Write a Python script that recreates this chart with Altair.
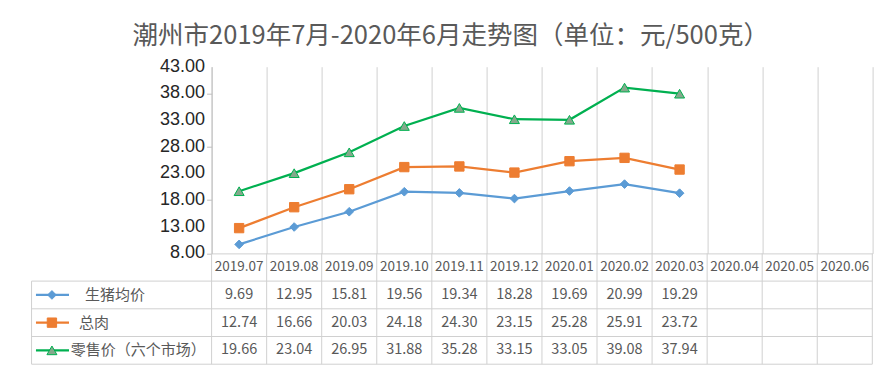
import altair as alt
import pandas as pd

months = ["2019.07", "2019.08", "2019.09", "2019.10", "2019.11", "2019.12",
          "2020.01", "2020.02", "2020.03", "2020.04", "2020.05", "2020.06"]
series_names = ["生猪均价", "总肉", "零售价（六个市场）"]
pig = [9.69, 12.95, 15.81, 19.56, 19.34, 18.28, 19.69, 20.99, 19.29]
meat = [12.74, 16.66, 20.03, 24.18, 24.30, 23.15, 25.28, 25.91, 23.72]
retail = [19.66, 23.04, 26.95, 31.88, 35.28, 33.15, 33.05, 39.08, 37.94]
y_ticks = [8, 13, 18, 23, 28, 33, 38, 43]

# ---- layout (pixels) ----
W, H = 660.7, 186.7
ROW = 27.7
PAD_L, PAD_T = 203.6, 58.7
PAD_R = 894 - 16 - PAD_L - W
PAD_B = 377 - 16 - PAD_T - H
FONT = "Noto Sans CJK SC"
GRID = "#d0d0d0"
TXT = "#595959"
n = len(months)
UNIT = W / n

line_colors = ["#5b9bd5", "#ed7d31", "#00b050"]
fill_colors = ["#5b9bd5", "#ed7d31", "#84a98c"]
shapes = ["diamond", "square", "triangle-up"]
sizes = [75, 100, 95]
label_dx = {"生猪均价": -2.30, "总肉": -2.41, "零售价（六个市场）": -2.56}

values = [pig, meat, retail]
rows = []
for s, vals in zip(series_names, values):
    for i, v in enumerate(vals):
        rows.append({"series": s, "month": months[i], "pos": i + 0.5, "value": v,
                     "row": series_names.index(s) + 1.5, "label": f"{v:.2f}"})
df = pd.DataFrame(rows)

xs = alt.Scale(domain=[0, n], nice=False, zero=False)
col_s = alt.Scale(domain=series_names, range=line_colors)
fill_s = alt.Scale(domain=series_names, range=fill_colors)
shape_s = alt.Scale(domain=series_names, range=shapes)
size_s = alt.Scale(domain=series_names, range=sizes)
ty = alt.Scale(domain=[0, 4], range=[H, H + 4 * ROW], nice=False, zero=False)
ly = alt.Scale(domain=[8, 43], nice=False, zero=False)

base = alt.Chart(df)

lines = base.mark_line(strokeWidth=2.25).encode(
    x=alt.X("pos:Q", scale=xs,
            axis=alt.Axis(values=list(range(n + 1)), grid=True, gridColor=GRID,
                          labels=False, ticks=False, domainColor=GRID, title=None)),
    y=alt.Y("value:Q", scale=ly,
            axis=alt.Axis(values=y_ticks, grid=False, title=None, labels=False,
                          domainColor="#bfbfbf", tickColor="#bfbfbf", tickSize=5)),
    color=alt.Color("series:N", scale=col_s, legend=None),
    detail="series:N",
)
points = base.mark_point(filled=True, opacity=1, strokeWidth=1).encode(
    x=alt.X("pos:Q", scale=xs),
    y=alt.Y("value:Q", scale=ly),
    fill=alt.Fill("series:N", scale=fill_s, legend=None),
    stroke=alt.Stroke("series:N", scale=col_s, legend=None),
    shape=alt.Shape("series:N", scale=shape_s, legend=None),
    size=alt.Size("series:N", scale=size_s, legend=None),
)
ytl = pd.DataFrame({"v": y_ticks, "xl": [-6.5 / UNIT] * len(y_ticks),
                    "t": [f"{v:.2f}" for v in y_ticks]})
ylabels = alt.Chart(ytl).mark_text(font="Liberation Sans", fontSize=18, color="#262626",
                                   align="right", baseline="middle").encode(
    x=alt.X("xl:Q", scale=xs), y=alt.Y("v:Q", scale=ly), text="t:N")
plot = alt.layer(lines, points, ylabels)

# ---- table ----
LEFT = -3.27
vrules = pd.DataFrame({"x": list(range(n + 1)), "y": [0] * (n + 1), "y2": [4] * (n + 1)})
vrules = pd.concat([vrules, pd.DataFrame({"x": [LEFT], "y": [1], "y2": [4]})])
hrules = pd.DataFrame({"x": [LEFT] * 4, "x2": [n] * 4, "y": [1, 2, 3, 4]})

t_v = alt.Chart(vrules).mark_rule(color=GRID, strokeWidth=1).encode(
    x=alt.X("x:Q", scale=xs), y=alt.Y("y:Q", scale=ty, axis=None), y2="y2:Q")
t_h = alt.Chart(hrules).mark_rule(color=GRID, strokeWidth=1).encode(
    x=alt.X("x:Q", scale=xs), x2="x2:Q", y=alt.Y("y:Q", scale=ty, axis=None))

hdr = pd.DataFrame({"month": months, "pos": [i + 0.5 for i in range(n)], "row": [0.5] * n})
t_hdr = alt.Chart(hdr).mark_text(font=FONT, fontSize=13.5, color=TXT).encode(
    x=alt.X("pos:Q", scale=xs), y=alt.Y("row:Q", scale=ty, axis=None), text="month:N")
t_val = base.mark_text(font=FONT, fontSize=14.5, color=TXT).encode(
    x=alt.X("pos:Q", scale=xs), y=alt.Y("row:Q", scale=ty, axis=None), text="label:N")

leg = pd.DataFrame({"series": series_names,
                    "row": [i + 1.5 for i in range(3)],
                    "x1": [-3.19] * 3, "x2": [-2.59] * 3, "xm": [-2.90] * 3,
                    "xt": [label_dx[s] for s in series_names]})
t_legl = alt.Chart(leg).mark_rule(strokeWidth=2.25).encode(
    x=alt.X("x1:Q", scale=xs), x2="x2:Q", y=alt.Y("row:Q", scale=ty, axis=None),
    color=alt.Color("series:N", scale=col_s, legend=None))
t_legp = alt.Chart(leg).mark_point(filled=True, opacity=1, strokeWidth=1).encode(
    x=alt.X("xm:Q", scale=xs), y=alt.Y("row:Q", scale=ty, axis=None),
    fill=alt.Fill("series:N", scale=fill_s, legend=None),
    stroke=alt.Stroke("series:N", scale=col_s, legend=None),
    shape=alt.Shape("series:N", scale=shape_s, legend=None),
    size=alt.Size("series:N", scale=alt.Scale(domain=series_names, range=[60, 80, 70]), legend=None))
t_legt = alt.Chart(leg).mark_text(font=FONT, fontSize=15, color=TXT, align="left").encode(
    x=alt.X("xt:Q", scale=xs), y=alt.Y("row:Q", scale=ty, axis=None), text="series:N")

table = alt.layer(t_v, t_h, t_hdr, t_val, t_legl, t_legp, t_legt)

chart = alt.layer(plot, table).resolve_scale(y="independent").properties(
    width=W, height=H,
    autosize=alt.AutoSizeParams(type="none"),
    padding={"left": PAD_L, "top": PAD_T, "right": PAD_R, "bottom": PAD_B},
    title=alt.TitleParams("潮州市2019年7月-2020年6月走势图（单位：元/500克）",
                          font=FONT, fontSize=25.5, fontWeight="normal", color=TXT,
                          anchor="start", frame="group", dx=-79, offset=8),
).configure_view(stroke=None)

chart.save("out.html", embed_options={"renderer": "svg", "actions": False})
